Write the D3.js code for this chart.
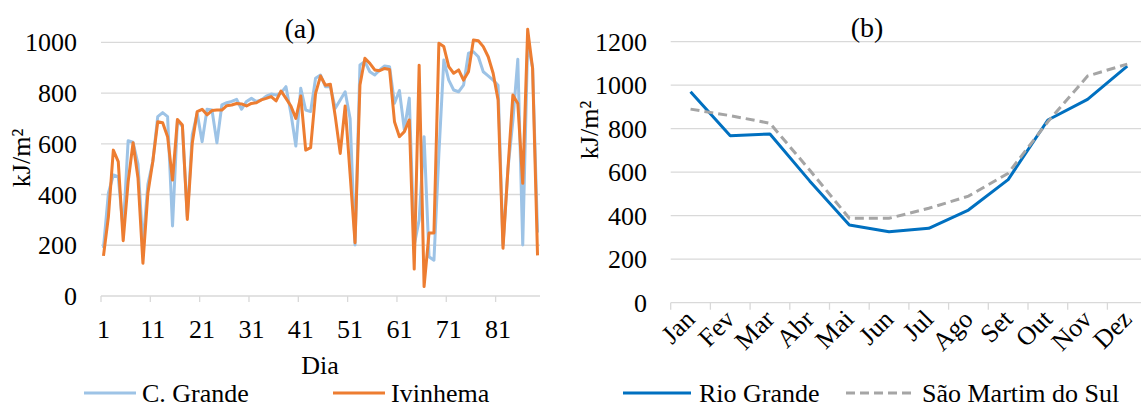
<!DOCTYPE html>
<html>
<head>
<meta charset="utf-8">
<script src="https://cdn.jsdelivr.net/npm/d3@7"></script>
<style>
  body { margin: 0; background: #fff; }
  text { font-family: "Liberation Serif", "Times New Roman", serif; fill: #000; }
</style>
</head>
<body>
<div id="chart"></div>
<script>
// Panel (a): daily values, days 1..89
const cGrande = [190, 405, 477, 470, 260, 612, 606, 520, 200, 440,
  530, 707, 723, 707, 276, 693, 668, 313, 635, 720,
  608, 736, 733, 604, 753, 762, 767, 775, 736, 767,
  779, 767, 773, 788, 796, 792, 800, 825, 720, 591,
  819, 733, 727, 858, 871, 825, 825, 740, 773, 805,
  700, 201, 911, 924, 884, 871, 891, 907, 904, 760,
  810, 655, 780, 200, 300, 628, 155, 141, 560, 930,
  851, 812, 805, 831, 957, 963, 943, 884, 868, 851,
  831, 200, 500, 690, 933, 201, 1000, 900, 250];
const ivinhema = [158, 312, 575, 530, 218, 450, 604, 465, 129, 405,
  530, 687, 683, 628, 457, 696, 674, 302, 602, 727,
  736, 714, 731, 733, 733, 750, 753, 759, 757, 749,
  759, 762, 773, 779, 786, 769, 808, 779, 749, 700,
  788, 575, 585, 799, 867, 831, 835, 707, 562, 749,
  480, 210, 832, 937, 917, 891, 888, 897, 893, 687,
  628, 648, 694, 106, 910, 37, 248, 248, 996, 983,
  904, 878, 891, 851, 884, 1009, 1006, 983, 943, 878,
  773, 188, 500, 792, 759, 444, 1051, 897, 160];
const dayTicks = [1, 11, 21, 31, 41, 51, 61, 71, 81];
const yTicksA = [0, 200, 400, 600, 800, 1000];

// Panel (b): monthly means
const months = ["Jan", "Fev", "Mar", "Abr", "Mai", "Jun", "Jul", "Ago", "Set", "Out", "Nov", "Dez"];
const rioGrande = [970, 768, 776, 560, 357, 326, 342, 426, 566, 840, 935, 1088];
const saoMartim = [890, 860, 825, 610, 388, 388, 434, 490, 595, 832, 1042, 1097];
const yTicksB = [0, 200, 400, 600, 800, 1000, 1200];

const W = 1141, H = 408;
const grid = "#d9d9d9";
const fs = 26;
const font = "'Liberation Serif', 'Times New Roman', serif";

const svg = d3.select("#chart").append("svg")
  .attr("width", W).attr("height", H)
  .attr("font-family", font);

// ---------- panel (a) ----------
const xa = d3.scaleLinear().domain([0, cGrande.length]).range([101, 540]);
const ya = d3.scaleLinear().domain([0, 1000]).range([296, 42.3]);

const ga = svg.append("g");

ga.selectAll("line.grid").data(yTicksA).enter().append("line")
  .attr("x1", xa.range()[0]).attr("x2", xa.range()[1])
  .attr("y1", d => ya(d)).attr("y2", d => ya(d))
  .style("stroke", grid).style("stroke-width", 1.3);

ga.selectAll("line.tick").data(dayTicks).enter().append("line")
  .attr("x1", d => xa(d - 1)).attr("x2", d => xa(d - 1))
  .attr("y1", ya(0)).attr("y2", ya(0) + 6)
  .style("stroke", grid).style("stroke-width", 1.3);

ga.selectAll("text.xl").data(dayTicks).enter().append("text")
  .attr("x", d => xa(d - 0.5)).attr("y", 338)
  .attr("text-anchor", "middle").style("font-size", fs + "px")
  .text(d => d);

ga.selectAll("text.yl").data(yTicksA).enter().append("text")
  .attr("x", 77).attr("y", d => ya(d) + 9)
  .attr("text-anchor", "end").style("font-size", fs + "px")
  .text(d => d);

const lineA = d3.line()
  .x((d, i) => xa(i + 0.5))
  .y(d => ya(d));

ga.append("path").datum(cGrande).attr("d", lineA)
  .style("fill", "none").style("stroke", "#9DC3E6").style("stroke-width", 3)
  .style("stroke-linejoin", "round");
ga.append("path").datum(ivinhema).attr("d", lineA)
  .style("fill", "none").style("stroke", "#ED7D31").style("stroke-width", 3)
  .style("stroke-linejoin", "round");

ga.append("text").attr("x", 300).attr("y", 38)
  .attr("text-anchor", "middle").style("font-size", "28px").text("(a)");
ga.append("text").attr("x", 320).attr("y", 374)
  .attr("text-anchor", "middle").style("font-size", fs + "px").text("Dia");
ga.append("text")
  .attr("transform", "translate(30,158) rotate(-90)")
  .attr("text-anchor", "middle").style("font-size", fs + "px").text("kJ/m²");

// legend (a)
const legA = [
  { name: "C. Grande", color: "#9DC3E6", x: 84 },
  { name: "Ivinhema", color: "#ED7D31", x: 333 }
];
legA.forEach(l => {
  ga.append("line").attr("x1", l.x).attr("x2", l.x + 52)
    .attr("y1", 393).attr("y2", 393)
    .style("stroke", l.color).style("stroke-width", 3);
  ga.append("text").attr("x", l.x + 58).attr("y", 402)
    .style("font-size", fs + "px").text(l.name);
});

// ---------- panel (b) ----------
const xb = d3.scaleBand().domain(months).range([670.7, 670.7 + 12 * 39.7]);
const yb = d3.scaleLinear().domain([0, 1200]).range([302.7, 41.7]);
const cx = m => xb(m) + xb.bandwidth() / 2;

const gb = svg.append("g");

gb.selectAll("line.grid").data(yTicksB).enter().append("line")
  .attr("x1", xb.range()[0]).attr("x2", xb.range()[1])
  .attr("y1", d => yb(d)).attr("y2", d => yb(d))
  .style("stroke", grid).style("stroke-width", 1.3);

gb.selectAll("line.tick").data(months).enter().append("line")
  .attr("x1", d => xb(d)).attr("x2", d => xb(d))
  .attr("y1", yb(0)).attr("y2", yb(0) + 7)
  .style("stroke", grid).style("stroke-width", 1.3);

gb.selectAll("text.yl").data(yTicksB).enter().append("text")
  .attr("x", 647).attr("y", d => yb(d) + 9)
  .attr("text-anchor", "end").style("font-size", fs + "px")
  .text(d => d);

gb.selectAll("text.xl").data(months).enter().append("text")
  .attr("transform", d => `translate(${cx(d) + 6},${yb(0) + 18}) rotate(-45)`)
  .attr("text-anchor", "end").style("font-size", fs + "px")
  .text(d => d);

const lineB = d3.line()
  .x((d, i) => cx(months[i]))
  .y(d => yb(d));

gb.append("path").datum(rioGrande).attr("d", lineB)
  .style("fill", "none").style("stroke", "#0070C0").style("stroke-width", 3)
  .style("stroke-linejoin", "round");
gb.append("path").datum(saoMartim).attr("d", lineB)
  .style("fill", "none").style("stroke", "#A5A5A5").style("stroke-width", 3)
  .style("stroke-dasharray", "9,5");

gb.append("text").attr("x", 867).attr("y", 37)
  .attr("text-anchor", "middle").style("font-size", "28px").text("(b)");
gb.append("text")
  .attr("transform", "translate(598,130) rotate(-90)")
  .attr("text-anchor", "middle").style("font-size", fs + "px").text("kJ/m²");

const legB = [
  { name: "Rio Grande", color: "#0070C0", x: 623, dash: null },
  { name: "São Martim do Sul", color: "#A5A5A5", x: 846, dash: "9,5" }
];
legB.forEach(l => {
  gb.append("line").attr("x1", l.x).attr("x2", l.x + 68)
    .attr("y1", 393).attr("y2", 393)
    .style("stroke", l.color).style("stroke-width", 3)
    .style("stroke-dasharray", l.dash);
  gb.append("text").attr("x", l.x + 76).attr("y", 402)
    .style("font-size", fs + "px").text(l.name);
});
</script>
</body>
</html>
